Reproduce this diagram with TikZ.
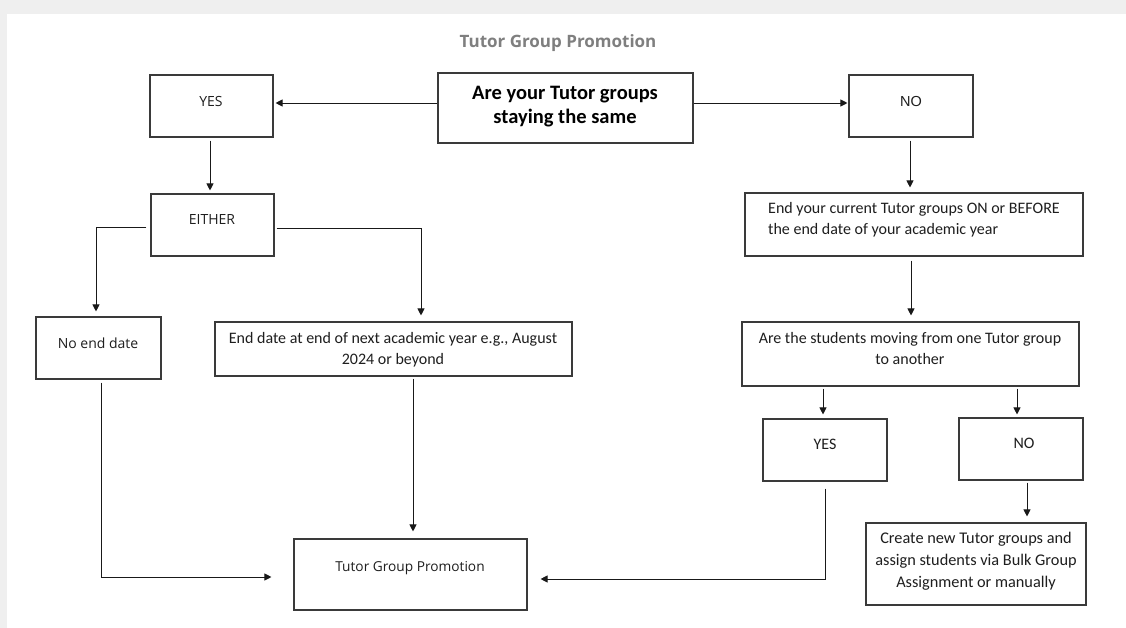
\documentclass[tikz,border=0pt]{standalone}
\usepackage{fontspec}
\setmainfont{Carlito}
\newfontfamily\uifont{Open Sans}
\newfontfamily\arfont{Liberation Sans}
\usetikzlibrary{arrows.meta}
\definecolor{pagegray}{HTML}{EFEFEF}
\definecolor{edge}{HTML}{3A3A3A}
\definecolor{titlegray}{HTML}{7F7F7F}
\definecolor{ink}{HTML}{1E1E1E}
\begin{document}
\begin{tikzpicture}[x=1pt,y=-1pt,
  box/.style={draw=edge, line width=1.1pt, rectangle, inner sep=0pt},
  lbl/.style={inner sep=0pt, align=center, text=ink},
  calib/.style={font=\fontsize{16}{21}\selectfont},
  ui/.style={font=\uifont\fontsize{14}{17}\selectfont},
  arr/.style={draw=black!90, line width=0.9pt, -{Triangle[length=7pt,width=7pt]}},
]
\useasboundingbox (0,0) rectangle (1126,628);
% page background and white sheet
\fill[pagegray] (0,0) rectangle (1126,628);
\fill[white] (7,14) rectangle (1126,628);

% title
\node[lbl, text=titlegray, font=\uifont\bfseries\fontsize{17}{20}\selectfont] (title) at (558,43) {Tutor Group Promotion};

% boxes
\node[box, minimum width=255pt, minimum height=70pt] (q) at (565.5,108) {};
\node[box, minimum width=123pt, minimum height=62pt] (yes) at (211.5,106) {};
\node[box, minimum width=124pt, minimum height=62pt] (no) at (911,106) {};
\node[box, minimum width=123pt, minimum height=62pt] (either) at (212.5,225) {};
\node[box, minimum width=125pt, minimum height=62pt] (noend) at (98.5,348) {};
\node[box, minimum width=357pt, minimum height=54pt] (enddate) at (393.5,349) {};
\node[box, minimum width=233pt, minimum height=71pt] (tgp) at (410.5,574.5) {};
\node[box, minimum width=338pt, minimum height=63pt] (endcur) at (914,224.5) {};
\node[box, minimum width=337pt, minimum height=64pt] (students) at (910.5,354) {};
\node[box, minimum width=124pt, minimum height=62pt] (yes2) at (825,450) {};
\node[box, minimum width=124pt, minimum height=62pt] (no2) at (1021,449) {};
\node[box, minimum width=220pt, minimum height=82pt] (create) at (976,564) {};

% box texts
\node[lbl, font=\bfseries\fontsize{20.5}{24}\selectfont, text=black] (q-t) at (565,106.5) {Are your Tutor groups\\staying the same};
\node[lbl, ui] (yes-t) at (211,102) {YES};
\node[lbl, font=\arfont\fontsize{14.5}{17}\selectfont] (no-t) at (911,102) {NO};
\node[lbl, ui] (either-t) at (212,220) {EITHER};
\node[lbl, ui] (noend-t) at (98,343) {No end date};
\node[lbl, calib] (enddate-t) at (393,349.5) {End date at end of next academic year e.g., August\\2024 or beyond};
\node[lbl, font=\uifont\fontsize{13.7}{16}\selectfont] (tgp-t) at (410,568) {Tutor Group Promotion};
\node[lbl, calib, align=left, anchor=west] (endcur-t) at (768,220) {End your current Tutor groups ON or BEFORE\\the end date of your academic year};
\node[lbl, calib] (students-t) at (910,348.5) {Are the students moving from one Tutor group\\to another};
\node[lbl, calib] (yes2-t) at (825,444) {YES};
\node[lbl, calib] (no2-t) at (1024,443) {NO};
\node[lbl, font=\fontsize{16.3}{22}\selectfont] (create-t) at (976,561.5) {Create new Tutor groups and\\assign students via Bulk Group\\Assignment or manually};

% connectors
\draw[arr, shorten >=2pt] ([yshift=5pt]q.west) -- ([yshift=3pt]yes.east);
\draw[arr, shorten >=1pt] ([yshift=5pt]q.east) -- ([yshift=3pt]no.west);
\draw[arr] ([xshift=-1.5pt,yshift=-3pt]yes.south) -- ([xshift=-2.5pt,yshift=3pt]either.north);
\draw[arr] ([xshift=-4pt,yshift=-2pt]either.west) -| ([xshift=-2.5pt,yshift=5pt]noend.north);
\draw[arr] ([xshift=2pt,yshift=-3pt]either.east) -| ([xshift=27.5pt,yshift=6pt]enddate.north);
\draw[arr] ([xshift=2.5pt,yshift=-3pt]noend.south) |- ([xshift=-22pt,yshift=-2.5pt]tgp.west);
\draw[arr] ([xshift=19.5pt,yshift=-2pt]enddate.south) -- ([xshift=2.5pt,yshift=7pt]tgp.north);
\draw[arr] ([xshift=-1pt,yshift=-3pt]no.south) -- ([xshift=-4pt,yshift=5pt]endcur.north);
\draw[arr] ([xshift=-3pt,yshift=-4pt]endcur.south) -- ([xshift=0.5pt,yshift=6pt]students.north);
\draw[arr] ([xshift=-87.5pt,yshift=-2pt]students.south) -- ([xshift=-2pt,yshift=4pt]yes2.north);
\draw[arr] ([xshift=106.5pt,yshift=-2pt]students.south) -- ([xshift=-4pt,yshift=3pt]no2.north);
\draw[arr] ([xshift=6pt,yshift=-2pt]no2.south) -- ([xshift=51pt,yshift=6pt]create.north);
\draw[arr] ([yshift=-7pt]yes2.south) |- ([xshift=13pt,yshift=-4.5pt]tgp.east);
\end{tikzpicture}
\end{document}
